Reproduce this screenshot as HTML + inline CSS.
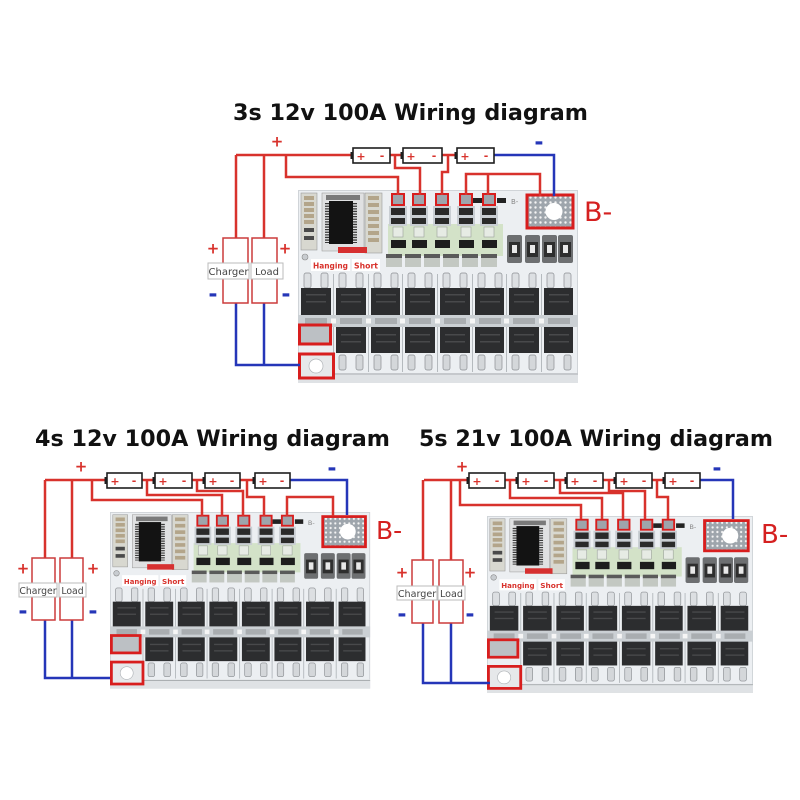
<!DOCTYPE html>
<html><head><meta charset="utf-8"><style>html,body{margin:0;padding:0;background:#fff}svg{display:block}</style></head>
<body>
<svg xmlns="http://www.w3.org/2000/svg" xmlns:xlink="http://www.w3.org/1999/xlink" width="800" height="800" viewBox="0 0 800 800">
<defs>
<pattern id="dots" width="5" height="5" patternUnits="userSpaceOnUse"><rect width="5" height="5" fill="#9ea5ac"/><circle cx="2.5" cy="2.5" r="1.2" fill="#f4f4f4"/></pattern>
<g id="board">
 <rect x="0" y="0" width="280" height="193" fill="#eceff2"/>
 <rect x="0.5" y="0.5" width="279" height="192" fill="none" stroke="#d0d4d8" stroke-width="1"/>
 <!-- left column -->
 <rect x="3" y="3" width="16" height="57" fill="#d8d8d0" stroke="#9a9a9a" stroke-width=".6"/>
 <g fill="#b3a58a"><rect x="6" y="6" width="10" height="4"/><rect x="6" y="12" width="10" height="4"/><rect x="6" y="18" width="10" height="4"/><rect x="6" y="24" width="10" height="4"/><rect x="6" y="30" width="10" height="4"/></g>
 <g fill="#4a4a4a"><rect x="6" y="38" width="10" height="4"/><rect x="6" y="46" width="10" height="4"/></g>
 <circle cx="7" cy="67" r="3" fill="#c8ccd0" stroke="#888" stroke-width=".6"/>
 <!-- IC -->
 <rect x="24" y="3" width="42" height="58" fill="#e0e1e2" stroke="#a0a0a0" stroke-width=".6"/>
 <rect x="28" y="5" width="34" height="5" fill="#7a7a7a"/>
 <line x1="29" y1="13" x2="29" y2="53" stroke="#3a3a3a" stroke-width="4" stroke-dasharray="1.3 1.3"/>
 <line x1="57" y1="13" x2="57" y2="53" stroke="#3a3a3a" stroke-width="4" stroke-dasharray="1.3 1.3"/>
 <rect x="31" y="11" width="24" height="43" fill="#131313"/>
 <!-- right column -->
 <rect x="67" y="3" width="17" height="60" fill="#d8d8d0" stroke="#9a9a9a" stroke-width=".6"/>
 <g fill="#b3a58a"><rect x="70" y="6" width="11" height="4"/><rect x="70" y="13" width="11" height="4"/><rect x="70" y="20" width="11" height="4"/><rect x="70" y="27" width="11" height="4"/><rect x="70" y="34" width="11" height="4"/><rect x="70" y="41" width="11" height="4"/><rect x="70" y="48" width="11" height="4"/></g>
 <rect x="40" y="57" width="29" height="6" fill="#d63030"/>
 <rect x="13" y="69" width="39" height="12" fill="#fff"/>
 <rect x="54" y="69" width="28" height="12" fill="#fff"/>
 <!-- green patch -->
 <rect x="90" y="34" width="115" height="32" fill="#d3e2c8"/>
 <!-- pad columns -->
 <g>
  <rect x="91" y="16" width="18" height="20" fill="#c9ced3"/><rect x="93" y="18" width="14" height="7" fill="#2a2a2a"/><rect x="93" y="28" width="14" height="6" fill="#2a2a2a"/><rect x="95" y="37" width="10" height="10" fill="#e6ebe4" stroke="#9aa09a" stroke-width=".6"/><rect x="93" y="50" width="15" height="8" fill="#1d1d1d"/>
  <rect x="112" y="16" width="18" height="20" fill="#c9ced3"/><rect x="114" y="18" width="14" height="7" fill="#2a2a2a"/><rect x="114" y="28" width="14" height="6" fill="#2a2a2a"/><rect x="116" y="37" width="10" height="10" fill="#e6ebe4" stroke="#9aa09a" stroke-width=".6"/><rect x="114" y="50" width="15" height="8" fill="#1d1d1d"/>
  <rect x="135" y="16" width="18" height="20" fill="#c9ced3"/><rect x="137" y="18" width="14" height="7" fill="#2a2a2a"/><rect x="137" y="28" width="14" height="6" fill="#2a2a2a"/><rect x="139" y="37" width="10" height="10" fill="#e6ebe4" stroke="#9aa09a" stroke-width=".6"/><rect x="137" y="50" width="15" height="8" fill="#1d1d1d"/>
  <rect x="159" y="16" width="18" height="20" fill="#c9ced3"/><rect x="161" y="18" width="14" height="7" fill="#2a2a2a"/><rect x="161" y="28" width="14" height="6" fill="#2a2a2a"/><rect x="163" y="37" width="10" height="10" fill="#e6ebe4" stroke="#9aa09a" stroke-width=".6"/><rect x="161" y="50" width="15" height="8" fill="#1d1d1d"/>
  <rect x="182" y="16" width="18" height="20" fill="#c9ced3"/><rect x="184" y="18" width="14" height="7" fill="#2a2a2a"/><rect x="184" y="28" width="14" height="6" fill="#2a2a2a"/><rect x="186" y="37" width="10" height="10" fill="#e6ebe4" stroke="#9aa09a" stroke-width=".6"/><rect x="184" y="50" width="15" height="8" fill="#1d1d1d"/>
 </g>
 <g fill="#9ea5ac" stroke="#d81e1e" stroke-width="2">
  <rect x="94" y="4" width="12" height="11"/><rect x="115" y="4" width="12" height="11"/><rect x="138" y="4" width="12" height="11"/><rect x="162" y="4" width="12" height="11"/><rect x="185" y="4" width="12" height="11"/>
 </g>
 <rect x="175" y="8" width="9" height="5" fill="#222"/><rect x="199" y="8" width="9" height="5" fill="#222"/>
 <!-- gray band -->
 <g><rect x="88" y="64" width="16" height="4" fill="#5a5a5a"/><rect x="88" y="68" width="16" height="9" fill="#c3c8c2"/>
 <rect x="107" y="64" width="16" height="4" fill="#5a5a5a"/><rect x="107" y="68" width="16" height="9" fill="#c3c8c2"/>
 <rect x="126" y="64" width="16" height="4" fill="#5a5a5a"/><rect x="126" y="68" width="16" height="9" fill="#c3c8c2"/>
 <rect x="145" y="64" width="16" height="4" fill="#5a5a5a"/><rect x="145" y="68" width="16" height="9" fill="#c3c8c2"/>
 <rect x="164" y="64" width="16" height="4" fill="#5a5a5a"/><rect x="164" y="68" width="16" height="9" fill="#c3c8c2"/>
 <rect x="183" y="64" width="16" height="4" fill="#5a5a5a"/><rect x="183" y="68" width="16" height="9" fill="#c3c8c2"/></g>
 <!-- diodes -->
 <g>
  <rect x="209" y="45" width="15" height="28" rx="2" fill="#6d6f71"/><rect x="211" y="52" width="11" height="15" fill="#2e2e2e"/><rect x="214" y="55" width="5" height="8" fill="#e8e8e8"/>
  <rect x="227" y="45" width="15" height="28" rx="2" fill="#6d6f71"/><rect x="229" y="52" width="11" height="15" fill="#2e2e2e"/><rect x="232" y="55" width="5" height="8" fill="#e8e8e8"/>
  <rect x="244" y="45" width="15" height="28" rx="2" fill="#6d6f71"/><rect x="246" y="52" width="11" height="15" fill="#2e2e2e"/><rect x="249" y="55" width="5" height="8" fill="#e8e8e8"/>
  <rect x="260" y="45" width="15" height="28" rx="2" fill="#6d6f71"/><rect x="262" y="52" width="11" height="15" fill="#2e2e2e"/><rect x="265" y="55" width="5" height="8" fill="#e8e8e8"/>
 </g>
 <!-- B- pad -->
 <rect x="229" y="5" width="46" height="33" fill="url(#dots)" stroke="#d81e1e" stroke-width="3"/>
 <circle cx="256" cy="21.5" r="8.5" fill="#fff"/>
 <!-- separators -->
 <g stroke="#b5babe" stroke-width="1">
  <line x1="35.5" y1="84" x2="35.5" y2="182"/><line x1="70.5" y1="84" x2="70.5" y2="182"/><line x1="104.5" y1="84" x2="104.5" y2="182"/><line x1="139.5" y1="84" x2="139.5" y2="182"/><line x1="174.5" y1="84" x2="174.5" y2="182"/><line x1="208.5" y1="84" x2="208.5" y2="182"/><line x1="243.5" y1="84" x2="243.5" y2="182"/>
 </g>
 <!-- top legs -->
 <g fill="#dcdfe2" stroke="#8a8e92" stroke-width=".7">
  <rect x="6" y="83" width="7" height="15" rx="2"/><rect x="23" y="83" width="7" height="15" rx="2"/>
  <rect x="41" y="83" width="7" height="15" rx="2"/><rect x="58" y="83" width="7" height="15" rx="2"/>
  <rect x="76" y="83" width="7" height="15" rx="2"/><rect x="93" y="83" width="7" height="15" rx="2"/>
  <rect x="110" y="83" width="7" height="15" rx="2"/><rect x="127" y="83" width="7" height="15" rx="2"/>
  <rect x="145" y="83" width="7" height="15" rx="2"/><rect x="162" y="83" width="7" height="15" rx="2"/>
  <rect x="180" y="83" width="7" height="15" rx="2"/><rect x="197" y="83" width="7" height="15" rx="2"/>
  <rect x="214" y="83" width="7" height="15" rx="2"/><rect x="231" y="83" width="7" height="15" rx="2"/>
  <rect x="249" y="83" width="7" height="15" rx="2"/><rect x="266" y="83" width="7" height="15" rx="2"/>
 </g>
 <!-- inter-row strip -->
 <rect x="0" y="125" width="280" height="12" fill="#cbd0d4"/>
 <g fill="#a9adb0">
  <rect x="7" y="128" width="22" height="6"/><rect x="42" y="128" width="22" height="6"/><rect x="77" y="128" width="22" height="6"/><rect x="111" y="128" width="22" height="6"/><rect x="146" y="128" width="22" height="6"/><rect x="181" y="128" width="22" height="6"/><rect x="215" y="128" width="22" height="6"/><rect x="250" y="128" width="22" height="6"/>
 </g>
 <g fill="#f6f6f6">
  <rect x="33" y="128.5" width="5" height="5"/><rect x="68" y="128.5" width="5" height="5"/><rect x="102" y="128.5" width="5" height="5"/><rect x="137" y="128.5" width="5" height="5"/><rect x="172" y="128.5" width="5" height="5"/><rect x="206" y="128.5" width="5" height="5"/><rect x="241" y="128.5" width="5" height="5"/>
 </g>
 <!-- mosfets row 1 -->
 <g fill="#2c2d2f">
  <rect x="3" y="98" width="30" height="27"/><rect x="38" y="98" width="30" height="27"/><rect x="73" y="98" width="29" height="27"/><rect x="107" y="98" width="30" height="27"/><rect x="142" y="98" width="30" height="27"/><rect x="177" y="98" width="29" height="27"/><rect x="211" y="98" width="30" height="27"/><rect x="246" y="98" width="29" height="27"/>
 </g>
 <!-- mosfets row 2 -->
 <g fill="#2c2d2f">
  <rect x="38" y="137" width="30" height="26"/><rect x="73" y="137" width="29" height="26"/><rect x="107" y="137" width="30" height="26"/><rect x="142" y="137" width="30" height="26"/><rect x="177" y="137" width="29" height="26"/><rect x="211" y="137" width="30" height="26"/><rect x="246" y="137" width="29" height="26"/>
 </g>
 <g fill="#48494b">
  <rect x="8" y="104" width="20" height="1.5"/><rect x="43" y="104" width="20" height="1.5"/><rect x="78" y="104" width="20" height="1.5"/><rect x="112" y="104" width="20" height="1.5"/><rect x="147" y="104" width="20" height="1.5"/><rect x="182" y="104" width="20" height="1.5"/><rect x="216" y="104" width="20" height="1.5"/><rect x="251" y="104" width="20" height="1.5"/>
  <rect x="8" y="111" width="20" height="1.5"/><rect x="43" y="111" width="20" height="1.5"/><rect x="78" y="111" width="20" height="1.5"/><rect x="112" y="111" width="20" height="1.5"/><rect x="147" y="111" width="20" height="1.5"/><rect x="182" y="111" width="20" height="1.5"/><rect x="216" y="111" width="20" height="1.5"/><rect x="251" y="111" width="20" height="1.5"/>
  <rect x="43" y="144" width="20" height="1.5"/><rect x="78" y="144" width="20" height="1.5"/><rect x="112" y="144" width="20" height="1.5"/><rect x="147" y="144" width="20" height="1.5"/><rect x="182" y="144" width="20" height="1.5"/><rect x="216" y="144" width="20" height="1.5"/><rect x="251" y="144" width="20" height="1.5"/>
  <rect x="43" y="151" width="20" height="1.5"/><rect x="78" y="151" width="20" height="1.5"/><rect x="112" y="151" width="20" height="1.5"/><rect x="147" y="151" width="20" height="1.5"/><rect x="182" y="151" width="20" height="1.5"/><rect x="216" y="151" width="20" height="1.5"/><rect x="251" y="151" width="20" height="1.5"/>
 </g>
 <!-- bottom legs -->
 <g fill="#d4d7da" stroke="#8a8e92" stroke-width=".7">
  <rect x="41" y="165" width="7" height="15" rx="2"/><rect x="58" y="165" width="7" height="15" rx="2"/>
  <rect x="76" y="165" width="7" height="15" rx="2"/><rect x="93" y="165" width="7" height="15" rx="2"/>
  <rect x="110" y="165" width="7" height="15" rx="2"/><rect x="127" y="165" width="7" height="15" rx="2"/>
  <rect x="145" y="165" width="7" height="15" rx="2"/><rect x="162" y="165" width="7" height="15" rx="2"/>
  <rect x="180" y="165" width="7" height="15" rx="2"/><rect x="197" y="165" width="7" height="15" rx="2"/>
  <rect x="214" y="165" width="7" height="15" rx="2"/><rect x="231" y="165" width="7" height="15" rx="2"/>
  <rect x="249" y="165" width="7" height="15" rx="2"/><rect x="266" y="165" width="7" height="15" rx="2"/>
 </g>
 <rect x="0" y="183" width="280" height="10" fill="#dfe2e5"/>
 <line x1="0" y1="184" x2="280" y2="184" stroke="#9a9ea2" stroke-width=".8"/>
 <!-- P- pads -->
 <rect x="1.5" y="135" width="31" height="19" fill="#bcc0c4" stroke="#d81e1e" stroke-width="3"/>
 <rect x="1.5" y="164" width="34" height="24" fill="#e6e8ea" stroke="#d81e1e" stroke-width="3"/>
 <circle cx="18" cy="176" r="7" fill="#fff" stroke="#b0b4b8" stroke-width=".7"/>
</g>
</defs>

<rect width="800" height="800" fill="#fff"/>

<!-- ================= TOP DIAGRAM ================= -->
<text x="233" y="120" font-family="'DejaVu Sans','Liberation Sans',sans-serif" font-weight="bold" font-size="22.5" textLength="355" lengthAdjust="spacingAndGlyphs" fill="#111">3s 12v 100A Wiring diagram</text>

<g transform="translate(298,190)">
 <use href="#board" xlink:href="#board"/>
 <text x="15" y="78.5" font-family="'DejaVu Sans',sans-serif" font-weight="bold" font-size="8" fill="#d8322c" textLength="35" lengthAdjust="spacingAndGlyphs">Hanging</text>
 <text x="56" y="78.5" font-family="'DejaVu Sans',sans-serif" font-weight="bold" font-size="8" fill="#d8322c" textLength="24" lengthAdjust="spacingAndGlyphs">Short</text>
 <text x="213" y="14" font-family="'DejaVu Sans',sans-serif" font-size="7" fill="#888">B-</text>
</g>

<g fill="none" stroke="#d8322c" stroke-width="2.5">
 <path d="M236,155 H353"/>
 <path d="M236,155 V238"/>
 <path d="M264,155 V238"/>
 <path d="M286,155 V177 H398 V195"/>
 <path d="M390,155 H404"/>
 <path d="M442,155 H457"/>
 <path d="M395,155 V168 H420 V195"/>
 <path d="M448,155 V172 H442 V195"/>
 <path d="M466,195 V174 H540 V196"/>
 <path d="M488,174 V195"/>
</g>
<g fill="none" stroke="#2536b8" stroke-width="2.5">
 <path d="M494,155 H554 V196"/>
 <path d="M236,303 V365 H300"/>
 <path d="M264,303 V365"/>
</g>

<g font-family="'DejaVu Sans',sans-serif" font-weight="bold" font-size="11" text-anchor="middle" fill="#d8322c">
 <rect x="353" y="148" width="37" height="15" fill="#fff" stroke="#1e1e1e" stroke-width="1.6"/><rect x="350.5" y="152" width="2.5" height="7" fill="#1e1e1e"/>
 <text x="361" y="160">+</text><text x="382" y="159.5">-</text>
 <rect x="403" y="148" width="39" height="15" fill="#fff" stroke="#1e1e1e" stroke-width="1.6"/><rect x="400.5" y="152" width="2.5" height="7" fill="#1e1e1e"/>
 <text x="411" y="160">+</text><text x="434" y="159.5">-</text>
 <rect x="457" y="148" width="37" height="15" fill="#fff" stroke="#1e1e1e" stroke-width="1.6"/><rect x="454.5" y="152" width="2.5" height="7" fill="#1e1e1e"/>
 <text x="465" y="160">+</text><text x="486" y="159.5">-</text>
</g>

<rect x="223" y="238" width="25" height="65" fill="#fff" stroke="#cc3b3b" stroke-width="1.5"/>
<rect x="252" y="238" width="25" height="65" fill="#fff" stroke="#cc3b3b" stroke-width="1.5"/>
<rect x="208" y="263" width="41" height="16" fill="#fff" stroke="#bbb" stroke-width="1"/>
<rect x="251" y="263" width="32" height="16" fill="#fff" stroke="#bbb" stroke-width="1"/>
<g font-family="'DejaVu Sans',sans-serif" font-size="10" fill="#444" text-anchor="middle">
 <text x="228.5" y="275">Charger</text><text x="267" y="275">Load</text>
</g>
<g font-family="'DejaVu Sans',sans-serif" font-weight="bold" text-anchor="middle">
 <text x="277" y="146.5" font-size="15" fill="#d8322c">+</text>
 <text x="213" y="253.5" font-size="15" fill="#d8322c">+</text>
 <text x="285" y="253.5" font-size="15" fill="#d8322c">+</text>
 <text x="539" y="149.5" font-size="22" fill="#2536b8">-</text>
 <text x="213" y="301.5" font-size="22" fill="#2536b8">-</text>
 <text x="286" y="301.5" font-size="22" fill="#2536b8">-</text>
</g>
<text x="584" y="221" font-family="'DejaVu Sans',sans-serif" font-size="27" fill="#d52020">B-</text>

<!-- ================= BOTTOM LEFT ================= -->
<text x="35" y="446" font-family="'DejaVu Sans','Liberation Sans',sans-serif" font-weight="bold" font-size="22.5" textLength="355" lengthAdjust="spacingAndGlyphs" fill="#111">4s 12v 100A Wiring diagram</text>

<g transform="translate(110,512) scale(0.929,0.915)">
 <use href="#board" xlink:href="#board"/>
 <text x="15" y="78.5" font-family="'DejaVu Sans',sans-serif" font-weight="bold" font-size="8" fill="#d8322c" textLength="35" lengthAdjust="spacingAndGlyphs">Hanging</text>
 <text x="56" y="78.5" font-family="'DejaVu Sans',sans-serif" font-weight="bold" font-size="8" fill="#d8322c" textLength="24" lengthAdjust="spacingAndGlyphs">Short</text>
 <text x="213" y="14" font-family="'DejaVu Sans',sans-serif" font-size="7" fill="#888">B-</text>
</g>

<g fill="none" stroke="#d8322c" stroke-width="2.5">
 <path d="M45,480 H107"/>
 <path d="M45,480 V558"/>
 <path d="M72,480 V558"/>
 <path d="M92,480 V500 H202 V516"/>
 <path d="M142,480 H155"/>
 <path d="M192,480 H205"/>
 <path d="M240,480 H255"/>
 <path d="M147,480 V495 H222 V516"/>
 <path d="M197,480 V491 H243 V516"/>
 <path d="M247,480 V497 H264 V516"/>
 <path d="M287,516 V497 H333 V516"/>
</g>
<g fill="none" stroke="#2536b8" stroke-width="2.5">
 <path d="M290,480 H347 V515"/>
 <path d="M45,620 V678 H110"/>
 <path d="M72,620 V678"/>
</g>

<g font-family="'DejaVu Sans',sans-serif" font-weight="bold" font-size="11" text-anchor="middle" fill="#d8322c">
 <rect x="107" y="473" width="35" height="15" fill="#fff" stroke="#1e1e1e" stroke-width="1.6"/><rect x="104.5" y="477" width="2.5" height="7" fill="#1e1e1e"/>
 <text x="115" y="485">+</text><text x="134" y="484.5">-</text>
 <rect x="155" y="473" width="37" height="15" fill="#fff" stroke="#1e1e1e" stroke-width="1.6"/><rect x="152.5" y="477" width="2.5" height="7" fill="#1e1e1e"/>
 <text x="163" y="485">+</text><text x="184" y="484.5">-</text>
 <rect x="205" y="473" width="35" height="15" fill="#fff" stroke="#1e1e1e" stroke-width="1.6"/><rect x="202.5" y="477" width="2.5" height="7" fill="#1e1e1e"/>
 <text x="213" y="485">+</text><text x="232" y="484.5">-</text>
 <rect x="255" y="473" width="35" height="15" fill="#fff" stroke="#1e1e1e" stroke-width="1.6"/><rect x="252.5" y="477" width="2.5" height="7" fill="#1e1e1e"/>
 <text x="263" y="485">+</text><text x="282" y="484.5">-</text>
</g>

<rect x="32" y="558" width="23" height="62" fill="#fff" stroke="#cc3b3b" stroke-width="1.5"/>
<rect x="60" y="558" width="23" height="62" fill="#fff" stroke="#cc3b3b" stroke-width="1.5"/>
<rect x="19" y="583" width="38" height="14" fill="#fff" stroke="#bbb" stroke-width="1"/>
<rect x="59" y="583" width="27" height="14" fill="#fff" stroke="#bbb" stroke-width="1"/>
<g font-family="'DejaVu Sans',sans-serif" font-size="9.3" fill="#444" text-anchor="middle">
 <text x="38" y="594">Charger</text><text x="72.5" y="594">Load</text>
</g>
<g font-family="'DejaVu Sans',sans-serif" font-weight="bold" text-anchor="middle">
 <text x="81" y="471.5" font-size="15" fill="#d8322c">+</text>
 <text x="23" y="573.5" font-size="15" fill="#d8322c">+</text>
 <text x="93" y="573.5" font-size="15" fill="#d8322c">+</text>
 <text x="332" y="475.5" font-size="22" fill="#2536b8">-</text>
 <text x="23" y="618.5" font-size="22" fill="#2536b8">-</text>
 <text x="93" y="618.5" font-size="22" fill="#2536b8">-</text>
</g>
<text x="376" y="539" font-family="'DejaVu Sans',sans-serif" font-size="25" fill="#d52020">B-</text>

<!-- ================= BOTTOM RIGHT ================= -->
<text x="419" y="446" font-family="'DejaVu Sans','Liberation Sans',sans-serif" font-weight="bold" font-size="22.5" textLength="354" lengthAdjust="spacingAndGlyphs" fill="#111">5s 21v 100A Wiring diagram</text>

<g transform="translate(487,516) scale(0.95,0.917)">
 <use href="#board" xlink:href="#board"/>
 <text x="15" y="78.5" font-family="'DejaVu Sans',sans-serif" font-weight="bold" font-size="8" fill="#d8322c" textLength="35" lengthAdjust="spacingAndGlyphs">Hanging</text>
 <text x="56" y="78.5" font-family="'DejaVu Sans',sans-serif" font-weight="bold" font-size="8" fill="#d8322c" textLength="24" lengthAdjust="spacingAndGlyphs">Short</text>
 <text x="213" y="14" font-family="'DejaVu Sans',sans-serif" font-size="7" fill="#888">B-</text>
</g>

<g fill="none" stroke="#d8322c" stroke-width="2.5">
 <path d="M424,480 H469"/>
 <path d="M423,480 V560"/>
 <path d="M451,480 V560"/>
 <path d="M460,480 V505 H581 V519"/>
 <path d="M505,480 H518"/>
 <path d="M554,480 H567"/>
 <path d="M603,480 H616"/>
 <path d="M652,480 H665"/>
 <path d="M510,480 V498 H602 V519"/>
 <path d="M560,480 V493 H623 V519"/>
 <path d="M609,480 V491 H645 V519"/>
 <path d="M657,480 V497 H668 V519"/>
</g>
<g fill="none" stroke="#2536b8" stroke-width="2.5">
 <path d="M700,480 H733 V519"/>
 <path d="M423,623 V683 H490"/>
 <path d="M451,623 V683"/>
</g>

<g font-family="'DejaVu Sans',sans-serif" font-weight="bold" font-size="11" text-anchor="middle" fill="#d8322c">
 <rect x="469" y="473" width="36" height="15" fill="#fff" stroke="#1e1e1e" stroke-width="1.6"/><rect x="466.5" y="477" width="2.5" height="7" fill="#1e1e1e"/>
 <text x="477" y="485">+</text><text x="497" y="484.5">-</text>
 <rect x="518" y="473" width="36" height="15" fill="#fff" stroke="#1e1e1e" stroke-width="1.6"/><rect x="515.5" y="477" width="2.5" height="7" fill="#1e1e1e"/>
 <text x="526" y="485">+</text><text x="546" y="484.5">-</text>
 <rect x="567" y="473" width="36" height="15" fill="#fff" stroke="#1e1e1e" stroke-width="1.6"/><rect x="564.5" y="477" width="2.5" height="7" fill="#1e1e1e"/>
 <text x="575" y="485">+</text><text x="595" y="484.5">-</text>
 <rect x="616" y="473" width="36" height="15" fill="#fff" stroke="#1e1e1e" stroke-width="1.6"/><rect x="613.5" y="477" width="2.5" height="7" fill="#1e1e1e"/>
 <text x="624" y="485">+</text><text x="644" y="484.5">-</text>
 <rect x="665" y="473" width="35" height="15" fill="#fff" stroke="#1e1e1e" stroke-width="1.6"/><rect x="662.5" y="477" width="2.5" height="7" fill="#1e1e1e"/>
 <text x="673" y="485">+</text><text x="692" y="484.5">-</text>
</g>

<rect x="412" y="560" width="21" height="63" fill="#fff" stroke="#cc3b3b" stroke-width="1.5"/>
<rect x="439" y="560" width="24" height="63" fill="#fff" stroke="#cc3b3b" stroke-width="1.5"/>
<rect x="397" y="586" width="40" height="14" fill="#fff" stroke="#bbb" stroke-width="1"/>
<rect x="438" y="586" width="27" height="14" fill="#fff" stroke="#bbb" stroke-width="1"/>
<g font-family="'DejaVu Sans',sans-serif" font-size="9.6" fill="#444" text-anchor="middle">
 <text x="417" y="597">Charger</text><text x="451.5" y="597">Load</text>
</g>
<g font-family="'DejaVu Sans',sans-serif" font-weight="bold" text-anchor="middle">
 <text x="462" y="471.5" font-size="15" fill="#d8322c">+</text>
 <text x="402" y="577.5" font-size="15" fill="#d8322c">+</text>
 <text x="470" y="577.5" font-size="15" fill="#d8322c">+</text>
 <text x="717" y="475.5" font-size="22" fill="#2536b8">-</text>
 <text x="402" y="621.5" font-size="22" fill="#2536b8">-</text>
 <text x="470" y="621.5" font-size="22" fill="#2536b8">-</text>
</g>
<text x="761" y="543" font-family="'DejaVu Sans',sans-serif" font-size="26" fill="#d52020">B-</text>
</svg>
</body></html>
